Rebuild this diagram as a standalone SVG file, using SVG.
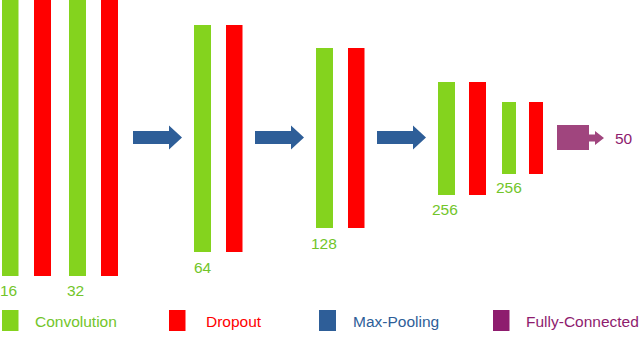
<svg xmlns="http://www.w3.org/2000/svg" width="640" height="362" viewBox="0 0 640 362">
<style>
.conv{fill:#84D31E}
.drop{fill:#FF0000}
.pool{fill:#2E5E98}
.fc{fill:#A0457E}
text{font-family:"Liberation Sans",Arial,sans-serif;font-size:15.5px}
.tg{fill:#72C52A}
.tr{fill:#FF0000}
.tb{fill:#2E5E98}
.tp{fill:#8E1C6E}
</style>
<rect width="640" height="362" fill="#ffffff"/>
<g id="block1">
<rect class="conv" x="2" y="0" width="16.5" height="276"/>
<rect class="drop" x="34" y="0" width="17" height="276"/>
<text class="tg" x="0" y="296">16</text>
</g>
<g id="block2">
<rect class="conv" x="69" y="0" width="17" height="276"/>
<rect class="drop" x="101" y="0" width="17" height="276"/>
<text class="tg" x="67" y="296">32</text>
</g>
<g id="block3">
<rect class="conv" x="194" y="25" width="17" height="227"/>
<rect class="drop" x="226" y="25" width="16.5" height="227"/>
<text class="tg" x="194" y="273">64</text>
</g>
<g id="block4">
<rect class="conv" x="316" y="48" width="17" height="180"/>
<rect class="drop" x="348" y="48" width="16.5" height="180"/>
<text class="tg" x="311" y="249">128</text>
</g>
<g id="block5">
<rect class="conv" x="438" y="82" width="17" height="113"/>
<rect class="drop" x="469" y="82" width="17" height="113"/>
<text class="tg" x="432" y="215">256</text>
</g>
<g id="block6">
<rect class="conv" x="502" y="102" width="14" height="72"/>
<rect class="drop" x="529" y="102" width="14" height="72"/>
<text class="tg" x="496" y="193">256</text>
</g>
<g id="fc">
<rect class="fc" x="557" y="125" width="32" height="25"/>
<polygon class="fc" points="589,134.5 595,134.5 595,131 604,138 595,145 595,141.5 589,141.5"/>
<text class="tp" x="615" y="144">50</text>
</g>
<g id="connectors">
<polygon class="pool" points="133,131 169,131 169,125.5 182,137.5 169,149.5 169,144 133,144"/>
<polygon class="pool" points="255,131 291,131 291,125.5 304,137.5 291,149.5 291,144 255,144"/>
<polygon class="pool" points="377,131 413,131 413,125.5 426,137.5 413,149.5 413,144 377,144"/>
</g>
<g id="legend">
<rect class="conv" x="2" y="310" width="16.5" height="21"/>
<text class="tg" x="35" y="327">Convolution</text>
<rect class="drop" x="169" y="310" width="16.5" height="21"/>
<text class="tr" x="206" y="327">Dropout</text>
<rect class="pool" x="319" y="310" width="17" height="21"/>
<text class="tb" x="353" y="327">Max-Pooling</text>
<rect class="tp" x="493" y="310" width="16.5" height="21"/>
<text class="tp" x="526" y="327">Fully-Connected</text>
</g>
</svg>
